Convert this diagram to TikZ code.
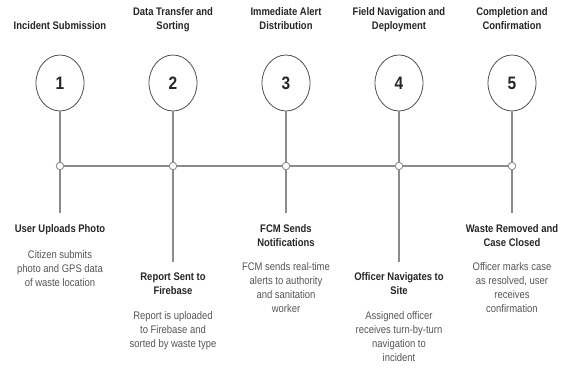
\documentclass[tikz,border=0pt]{standalone}
\usepackage{fontspec}
\setmainfont{Liberation Sans}[FakeStretch=0.86]
\usetikzlibrary{shapes.geometric}
\definecolor{titlecol}{HTML}{262626}
\definecolor{desccol}{HTML}{555555}
\definecolor{linecol}{HTML}{8C8C8C}
\definecolor{ringcol}{HTML}{505050}
\begin{document}
\begin{tikzpicture}[x=1pt,y=-1pt,
  ring/.style={ellipse, draw=ringcol, line width=0.8pt, fill=white, minimum width=48pt, minimum height=56pt, inner sep=0pt, font=\bfseries\fontsize{18}{20}\selectfont, text=titlecol},
  dot/.style={circle, draw=linecol, fill=white, line width=0.9pt, minimum size=7.5pt, inner sep=0pt},
  link/.style={draw=linecol, line width=1.3pt},
  ttl/.style={anchor=north, inner sep=0pt, align=center, font=\bfseries\fontsize{11}{14}\selectfont, text=titlecol},
  dsc/.style={anchor=north, inner sep=0pt, align=center, font=\fontsize{11}{14}\selectfont, text=desccol}]
\useasboundingbox (0,0) rectangle (563,369);
% top titles
\node[ttl] (t1) at (60,21.5) {Incident Submission};
\node[ttl] (t2) at (173,7.5) {Data Transfer and\\Sorting};
\node[ttl] (t3) at (286,7.5) {Immediate Alert\\Distribution};
\node[ttl] (t4) at (399,7.5) {Field Navigation and\\Deployment};
\node[ttl] (t5) at (512,7.5) {Completion and\\Confirmation};
% rings
\node[ring] (c1) at (60,83) {1};
\node[ring] (c2) at (173,83) {2};
\node[ring] (c3) at (286,83) {3};
\node[ring] (c4) at (399,83) {4};
\node[ring] (c5) at (512,83) {5};
% dots
\node[dot] (d1) at (60,166) {};
\node[dot] (d2) at (173,166) {};
\node[dot] (d3) at (286,166) {};
\node[dot] (d4) at (399,166) {};
\node[dot] (d5) at (512,166) {};
% ends
\coordinate (e1) at (60,213);
\coordinate (e2) at (173,262);
\coordinate (e3) at (286,213);
\coordinate (e4) at (399,262);
\coordinate (e5) at (512,213);
% connectors
\foreach \i in {1,...,5}{
  \draw[link] (c\i) -- (d\i);
  \draw[link] (d\i) -- (e\i);
}
\draw[link] (d1) -- (d2);
\draw[link] (d2) -- (d3);
\draw[link] (d3) -- (d4);
\draw[link] (d4) -- (d5);
% bottom labels
\node[ttl] (b1) at (60,224.5) {User Uploads Photo};
\node[dsc] (p1) at (60,250.5) {Citizen submits\\photo and GPS data\\of waste location};
\node[ttl] (b2) at (173,272.5) {Report Sent to\\Firebase};
\node[dsc] (p2) at (173,311.5) {Report is uploaded\\to Firebase and\\sorted by waste type};
\node[ttl] (b3) at (286,224.5) {FCM Sends\\Notifications};
\node[dsc] (p3) at (286,262.5) {FCM sends real-time\\alerts to authority\\and sanitation\\worker};
\node[ttl] (b4) at (399,272.5) {Officer Navigates to\\Site};
\node[dsc] (p4) at (399,311.5) {Assigned officer\\receives turn-by-turn\\navigation to\\incident};
\node[ttl] (b5) at (512,224.5) {Waste Removed and\\Case Closed};
\node[dsc] (p5) at (512,262.5) {Officer marks case\\as resolved, user\\receives\\confirmation};
\end{tikzpicture}
\end{document}
